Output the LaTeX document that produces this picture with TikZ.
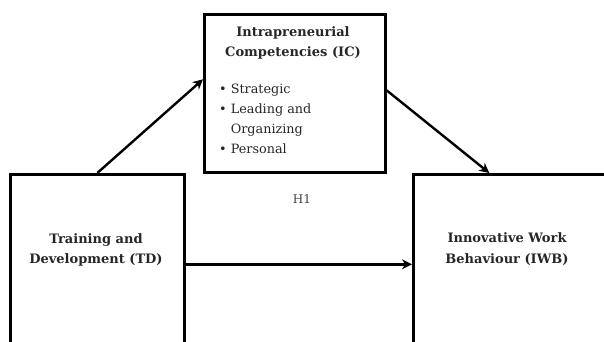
\documentclass[tikz,border=0pt]{standalone}
\usepackage{fontspec}
\setmainfont{DejaVu Serif}
\usetikzlibrary{arrows.meta}

\begin{document}
\begin{tikzpicture}[
  x=1pt, y=-1pt,
  box/.style={draw, rectangle, line width=2.6pt, anchor=north west, inner sep=0pt},
  title/.style={font=\fontsize{13}{20.5}\selectfont\bfseries, align=center, text=black!85},
  items/.style={font=\fontsize{12.8}{20}\selectfont, align=left, anchor=north west, inner sep=0pt, text=black!85},
  hyp/.style={font=\fontsize{12}{14}\selectfont, text=black!75},
  arrow/.style={-{Stealth[length=10pt, width=10pt]}, line width=2.4pt}
]
\useasboundingbox (0,0) rectangle (604,342);
\clip (0,0) rectangle (604,342);

% Boxes
\node[box, minimum width=174pt, minimum height=180pt] (td) at (9,173) {};
\node[box, minimum width=181pt, minimum height=158pt] (ic) at (203,13) {};
\node[box, minimum width=210pt, minimum height=180pt] (iwb) at (412,173) {};

% Texts
\node[title] (tdtext) at (96,250) {Training and\\Development (TD)};
\node[title] (ictext) at (293,43) {Intrapreneurial\\Competencies (IC)};
\node[items] (iclist) at (219,84) {\textbullet\ Strategic\\\textbullet\ Leading and\\\hphantom{\textbullet\ }Organizing\\\textbullet\ Personal};
\node[title] (iwbtext) at (507,249) {Innovative Work\\Behaviour (IWB)};
\node[hyp] (h1) at (302,199) {H1};

% Paths
\draw[arrow] (td.north) -- ([yshift=14pt]ic.west);
\draw[arrow] ([yshift=3pt]ic.east) -- ([xshift=-29pt]iwb.north);
\draw[arrow] (td.east) -- (iwb.west);

\end{tikzpicture}
\end{document}
